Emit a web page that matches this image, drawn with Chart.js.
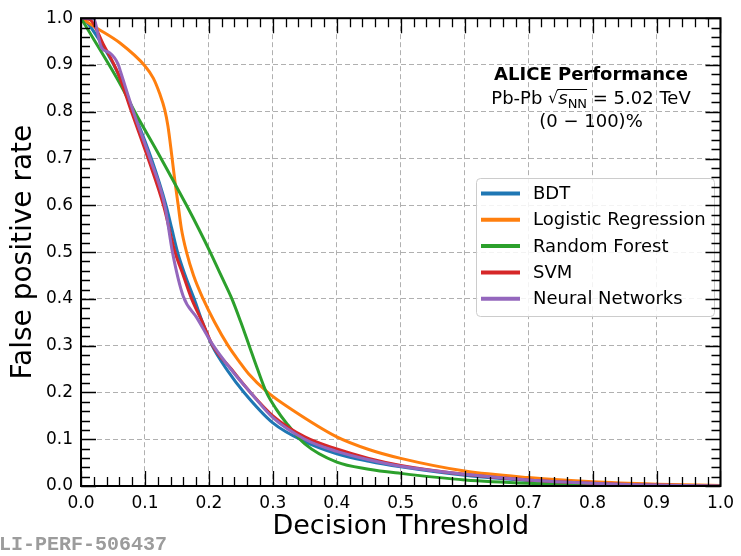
<!DOCTYPE html>
<html lang="en">
<head>
<meta charset="UTF-8">
<title>False positive rate vs decision threshold</title>
<script src="https://cdn.jsdelivr.net/npm/chart.js"></script>
<style>
  html, body { margin: 0; padding: 0; background: #fff; }
  #wrap { width: 741px; height: 556px; }
</style>
</head>
<body>
<div id="wrap"><canvas id="myChart" width="741" height="556"></canvas></div>
<script>
// series labels and colours (matplotlib tab10)
const seriesNames = ['BDT', 'Logistic Regression', 'Random Forest', 'SVM', 'Neural Networks'];
const seriesColors = ['#1f77b4', '#ff7f0e', '#2ca02c', '#d62728', '#9467bd'];

// values: threshold (x) and false positive rate (y)
const bdtX = [0, 0.01, 0.03, 0.055, 0.082, 0.11, 0.133, 0.142, 0.151, 0.163, 0.177, 0.19, 0.205, 0.23, 0.255, 0.3, 0.35, 0.4, 0.45, 0.5, 0.6, 0.7, 0.8, 0.9, 1.0];
const bdtY = [1.0, 0.99, 0.95, 0.89, 0.8, 0.7, 0.6, 0.55, 0.5, 0.45, 0.4, 0.35, 0.3, 0.245, 0.2, 0.135, 0.095, 0.069, 0.053, 0.041, 0.023, 0.012, 0.006, 0.002, 0.0];

const lrX = [0, 0.0245, 0.061, 0.1, 0.113, 0.123, 0.131, 0.136, 0.142, 0.147, 0.152, 0.157, 0.165, 0.176, 0.191, 0.209, 0.23, 0.248, 0.262, 0.292, 0.33, 0.4, 0.45, 0.5, 0.6, 0.7, 0.8, 0.9, 1.0];
const lrY = [1.0, 0.979, 0.947, 0.898, 0.872, 0.839, 0.804, 0.769, 0.706, 0.65, 0.6, 0.55, 0.5, 0.45, 0.4, 0.35, 0.3, 0.265, 0.24, 0.2, 0.163, 0.105, 0.078, 0.059, 0.032, 0.018, 0.009, 0.004, 0.001];

const rfX = [0, 0.061, 0.084, 0.12, 0.165, 0.184, 0.202, 0.219, 0.236, 0.25, 0.263, 0.276, 0.29, 0.305, 0.321, 0.35, 0.4, 0.45, 0.5, 0.6, 0.7, 0.8, 0.9, 1.0];
const rfY = [1.0, 0.86, 0.8, 0.713, 0.6, 0.55, 0.5, 0.45, 0.4, 0.35, 0.3, 0.25, 0.2, 0.165, 0.135, 0.09, 0.051, 0.036, 0.027, 0.013, 0.006, 0.003, 0.001, 0.0];

const svmX = [0, 0.014, 0.035, 0.058, 0.079, 0.105, 0.129, 0.147, 0.16, 0.173, 0.19, 0.206, 0.235, 0.265, 0.3, 0.35, 0.4, 0.45, 0.5, 0.6, 0.7, 0.8, 0.9, 1.0];
const svmY = [1.0, 0.997, 0.944, 0.882, 0.8, 0.7, 0.6, 0.5, 0.45, 0.4, 0.35, 0.3, 0.25, 0.2, 0.15, 0.105, 0.079, 0.059, 0.044, 0.025, 0.013, 0.006, 0.002, 0.0];

const nnX = [0, 0.019, 0.032, 0.045, 0.058, 0.062, 0.082, 0.108, 0.131, 0.143, 0.16, 0.181, 0.207, 0.24, 0.265, 0.3, 0.35, 0.4, 0.45, 0.5, 0.6, 0.7, 0.8, 0.9, 1.0];
const nnY = [1.0, 1.0, 0.937, 0.926, 0.902, 0.885, 0.8, 0.7, 0.6, 0.5, 0.405, 0.36, 0.3, 0.24, 0.2, 0.146, 0.1, 0.074, 0.056, 0.042, 0.025, 0.013, 0.006, 0.002, 0.0];

const seriesX = [bdtX, lrX, rfX, svmX, nnX];
const seriesY = [bdtY, lrY, rfY, svmY, nnY];

const tickFont = { family: 'DejaVu Sans', size: 17 };

// frame with matplotlib style inward ticks on all four sides
const frameTicks = {
    id: 'frameTicks',
    afterDraw(chart) {
        const ctx = chart.ctx;
        const a = chart.chartArea;
        const sx = chart.scales.x, sy = chart.scales.y;
        ctx.save();
        ctx.strokeStyle = '#000';
        ctx.lineWidth = 1.3;
        for (let i = 0; i <= 50; i++) {
            const v = i / 50;
            const len = (i % 5 === 0) ? 15 : 9;
            const px = Math.round(sx.getPixelForValue(v)) + 0.5;
            const py = Math.round(sy.getPixelForValue(v)) + 0.5;
            ctx.beginPath();
            ctx.moveTo(px, a.bottom); ctx.lineTo(px, a.bottom - len);
            ctx.moveTo(px, a.top); ctx.lineTo(px, a.top + len);
            ctx.moveTo(a.left, py); ctx.lineTo(a.left + len, py);
            ctx.moveTo(a.right, py); ctx.lineTo(a.right - len, py);
            ctx.stroke();
        }
        ctx.lineWidth = 2;
        ctx.strokeRect(a.left, a.top, a.right - a.left, a.bottom - a.top);

        // run number under the axis, cut at the left edge
        ctx.font = 'bold 20px "Liberation Mono"';
        ctx.fillStyle = '#9c9c9c';
        ctx.textAlign = 'left';
        ctx.textBaseline = 'alphabetic';
        ctx.fillText('ALI-PERF-506437', -13, 550);
        ctx.restore();
    }
};

// legend box drawn inside the plot area
const legendBox = {
    id: 'legendBox',
    afterDatasetsDraw(chart) {
        const ctx = chart.ctx;
        const bx = 476, by = 178, bw = 238, bh = 138;
        ctx.save();
        ctx.fillStyle = 'rgba(255,255,255,0.85)';
        ctx.strokeStyle = '#cccccc';
        ctx.lineWidth = 1;
        ctx.beginPath();
        ctx.roundRect(bx + 0.5, by + 0.5, bw, bh, 4);
        ctx.fill();
        ctx.stroke();
        ctx.font = '18px "DejaVu Sans"';
        ctx.textBaseline = 'middle';
        ctx.textAlign = 'left';
        chart.data.datasets.forEach((ds, i) => {
            const yy = 193.5 + i * 26.3;
            ctx.strokeStyle = ds.borderColor;
            ctx.lineWidth = 4;
            ctx.beginPath();
            ctx.moveTo(481, yy);
            ctx.lineTo(520, yy);
            ctx.stroke();
            ctx.fillStyle = '#000';
            ctx.fillText(ds.label, 533, yy + 1);
        });
        ctx.restore();
    }
};

// ALICE performance label
const notes = {
    id: 'notes',
    afterDatasetsDraw(chart) {
        const ctx = chart.ctx;
        const cx = 591;
        ctx.save();
        ctx.fillStyle = '#000';
        ctx.textBaseline = 'alphabetic';
        ctx.textAlign = 'center';
        ctx.font = 'bold 18px "DejaVu Sans"';
        ctx.fillText('ALICE Performance', cx, 80);

        // Pb-Pb sqrt(s_NN) = 5.02 TeV, built from pieces
        const parts = [
            { t: 'Pb-Pb ', f: '18px "DejaVu Sans"', dy: 0 },
            { t: '\u221A', f: '16px "DejaVu Sans"', dy: -1 },
            { t: 's', f: 'italic 18px "DejaVu Sans"', dy: 0 },
            { t: 'NN', f: '13px "DejaVu Sans"', dy: 4 },
            { t: ' = 5.02 TeV', f: '18px "DejaVu Sans"', dy: 0 }
        ];
        let total = 0;
        parts.forEach(p => { ctx.font = p.f; p.w = ctx.measureText(p.t).width; total += p.w; });
        let x = cx - total / 2;
        ctx.textAlign = 'left';
        parts.forEach(p => {
            ctx.font = p.f;
            ctx.fillText(p.t, x, 104 + p.dy);
            x += p.w;
        });
        // overbar of the root sign
        ctx.lineWidth = 1;
        ctx.beginPath();
        ctx.moveTo(cx - total / 2 + parts[0].w + parts[1].w - 1, 89.5);
        ctx.lineTo(cx - total / 2 + parts[0].w + parts[1].w + parts[2].w + parts[3].w, 89.5);
        ctx.stroke();

        ctx.textAlign = 'center';
        ctx.font = '18px "DejaVu Sans"';
        ctx.fillText('(0 \u2212 100)%', cx, 127);
        ctx.restore();
    }
};

const datasets = seriesNames.map((name, i) => ({
    label: name,
    data: seriesX[i].map((x, j) => ({ x: x, y: seriesY[i][j] })),
    borderColor: seriesColors[i],
    backgroundColor: seriesColors[i],
    borderWidth: 3,
    pointRadius: 0,
    fill: false,
    cubicInterpolationMode: 'monotone',
    order: seriesNames.length - i
}));

new Chart(document.getElementById('myChart'), {
    type: 'line',
    data: { datasets: datasets },
    options: {
        responsive: false,
        animation: false,
        devicePixelRatio: 1,
        layout: { padding: { top: 10, right: 19, left: 0, bottom: 0 } },
        plugins: {
            legend: { display: false },
            tooltip: { enabled: false }
        },
        scales: {
            x: {
                type: 'linear',
                min: 0, max: 1,
                afterFit(s) { s.height = 70; },
                ticks: {
                    stepSize: 0.1,
                    color: '#000',
                    font: tickFont,
                    padding: 7,
                    maxRotation: 0,
                    callback: v => v.toFixed(1)
                },
                grid: { color: '#b0b0b0', lineWidth: 1, drawTicks: false },
                border: { display: false, dash: [5, 3] },
                title: {
                    display: true,
                    text: 'Decision Threshold',
                    color: '#000',
                    font: { family: 'DejaVu Sans', size: 27, lineHeight: 1.2 },
                    padding: { top: 0, bottom: 13 }
                }
            },
            y: {
                type: 'linear',
                min: 0, max: 1,
                afterFit(s) { s.width = 81; },
                ticks: {
                    stepSize: 0.1,
                    color: '#000',
                    font: tickFont,
                    padding: 8,
                    callback: v => v.toFixed(1)
                },
                grid: { color: '#b0b0b0', lineWidth: 1, drawTicks: false },
                border: { display: false, dash: [5, 3] },
                title: {
                    display: true,
                    text: 'False positive rate',
                    color: '#000',
                    font: { family: 'DejaVu Sans', size: 28, lineHeight: 1.2 },
                    padding: { top: 7, bottom: 0 }
                }
            }
        }
    },
    plugins: [legendBox, notes, frameTicks]
});
</script>
</body>
</html>
